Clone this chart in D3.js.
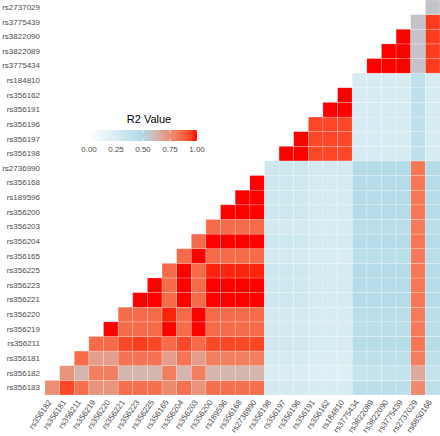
<!DOCTYPE html>
<html>
<head>
<meta charset="utf-8">
<script src="https://cdn.jsdelivr.net/npm/d3@7"></script>
<style>
  html, body { margin: 0; padding: 0; background: #fff; }
  svg { display: block; }
  text { font-family: "Liberation Sans", Arial, Helvetica, sans-serif; }
</style>
</head>
<body>
<svg id="chart" width="440" height="436"></svg>
<script>
// SNPs in order (row k = snps[k], column j = snps[j+1])
const snps = ["rs356183","rs356182","rs356181","rs356211","rs356219","rs356220","rs356221",
  "rs356223","rs356225","rs356165","rs356204","rs356203","rs356200","rs189596","rs356168",
  "rs2736990","rs356198","rs356197","rs356196","rs356191","rs356162","rs184810","rs3775434",
  "rs3822089","rs3822090","rs3775439","rs2737029","rs6850166"];
const rowLabels = snps.slice(0, 27);
const colLabels = snps.slice(1);

// R2 values: row k lists columns k..26 (null = NA)
const r2Rows = [
  [0.75,0.93,0.84,0.73,0.73,0.84,0.84,0.84,0.76,0.84,0.73,0.84,0.84,0.84,0.84, 0.27,0.27,0.27,0.24,0.24,0.24,0.41,0.41,0.41,0.41,0.76,0.41],
  [0.73,0.62,0.80,0.80,0.62,0.62,0.62,0.80,0.62,0.80,0.62,0.62,0.62,0.62, 0.23,0.23,0.23,0.20,0.20,0.20,0.36,0.36,0.36,0.36,0.66,0.36],
  [0.85,0.70,0.70,0.83,0.83,0.83,0.70,0.83,0.70,0.80,0.80,0.80,0.80, 0.26,0.26,0.26,0.23,0.23,0.23,0.40,0.40,0.40,0.40,0.80,0.40],
  [0.85,0.85,0.93,0.95,0.93,0.85,0.93,0.85,0.93,0.93,0.93,0.93, 0.29,0.29,0.29,0.25,0.25,0.25,0.44,0.44,0.44,0.44,0.82,0.44],
  [1.00,0.85,0.85,0.85,1.00,0.85,1.00,0.85,0.85,0.85,0.85, 0.27,0.27,0.27,0.24,0.24,0.24,0.42,0.42,0.42,0.42,0.81,0.42],
  [0.85,0.85,0.85,0.98,0.85,1.00,0.85,0.85,0.85,0.85, 0.27,0.27,0.27,0.24,0.24,0.24,0.42,0.42,0.42,0.42,0.81,0.42],
  [1.00,1.00,0.85,1.00,0.85,1.00,1.00,1.00,1.00, 0.30,0.30,0.30,0.26,0.26,0.26,0.45,0.45,0.45,0.45,0.82,0.45],
  [1.00,0.85,1.00,0.85,1.00,1.00,1.00,1.00, 0.30,0.30,0.30,0.26,0.26,0.26,0.45,0.45,0.45,0.45,0.82,0.45],
  [0.85,1.00,0.85,0.98,0.98,0.98,0.98, 0.30,0.30,0.30,0.26,0.26,0.26,0.45,0.45,0.45,0.45,0.82,0.45],
  [0.85,1.00,0.85,0.85,0.85,0.85, 0.27,0.27,0.27,0.24,0.24,0.24,0.42,0.42,0.42,0.42,0.81,0.42],
  [0.85,1.00,1.00,1.00,1.00, 0.30,0.30,0.30,0.26,0.26,0.26,0.45,0.45,0.45,0.45,0.82,0.45],
  [0.85,0.85,0.85,0.85, 0.27,0.27,0.27,0.24,0.24,0.24,0.42,0.42,0.42,0.42,0.81,0.42],
  [1.00,1.00,1.00, 0.30,0.30,0.30,0.26,0.26,0.26,0.45,0.45,0.45,0.45,0.82,0.45],
  [1.00,1.00, 0.30,0.30,0.30,0.26,0.26,0.26,0.45,0.45,0.45,0.45,0.82,0.45],
  [1.00, 0.30,0.30,0.30,0.26,0.26,0.26,0.45,0.45,0.45,0.45,0.82,0.45],
  [0.31,0.31,0.31,0.27,0.27,0.27,0.46,0.46,0.46,0.46,0.82,0.46],
  [1.00,1.00,0.93,0.93,0.93, 0.25,0.25,0.25,0.25,0.40,0.25],
  [1.00,0.93,0.93,0.93, 0.25,0.25,0.25,0.25,0.40,0.25],
  [0.93,0.93,0.93, 0.25,0.25,0.25,0.25,0.40,0.25],
  [1.00,1.00, 0.25,0.25,0.25,0.25,0.40,0.25],
  [1.00, 0.25,0.25,0.25,0.25,0.40,0.25],
  [0.25,0.25,0.25,0.25,0.40,0.25],
  [1.00,1.00,1.00,null,0.95],
  [1.00,1.00,null,0.95],
  [1.00,null,0.95],
  [null,0.95],
  [null]
];
const legendTicks = [0, 0.25, 0.5, 0.75, 1];
const legendTitle = "R2 Value";

// build cells
const cells = [];
r2Rows.forEach((vals, k) => {
  vals.forEach((v, i) => {
    cells.push({ row: rowLabels[k], col: colLabels[k + i], value: v });
  });
});

const svg = d3.select("#chart");
const x = d3.scaleBand().domain(colLabels).range([45, 440]);
const y = d3.scaleBand().domain(rowLabels.slice().reverse()).range([0, 395]);
const color = d3.scaleLinear().domain([0, 0.5, 1])
  .range(["#ffffff", "#add8e6", "#ff0000"]).interpolate(d3.interpolateLab);
const naColor = "#c3c4c9";

svg.append("g").selectAll("rect").data(cells).join("rect")
  .attr("x", d => x(d.col))
  .attr("y", d => y(d.row))
  .attr("width", x.bandwidth())
  .attr("height", y.bandwidth())
  .attr("fill", d => d.value == null ? naColor : color(d.value))
  .attr("stroke", "#ffffff")
  .attr("stroke-opacity", 0.35)
  .attr("stroke-width", 0.6);

// axes
const textColor = "#4d4d4d";
const yAxis = svg.append("g").attr("transform", "translate(45,0)")
  .call(d3.axisLeft(y).tickSize(0).tickPadding(5));
yAxis.select(".domain").remove();
yAxis.selectAll("text").attr("fill", textColor).style("font-size", "8px");

const xAxis = svg.append("g").attr("transform", "translate(0,395)")
  .call(d3.axisBottom(x).tickSize(0).tickPadding(0));
xAxis.select(".domain").remove();
xAxis.selectAll(".tick text")
  .attr("fill", textColor).style("font-size", "8px")
  .attr("text-anchor", "end")
  .attr("x", 0).attr("y", 0).attr("dy", "0.72em")
  .attr("transform", "translate(-5,4) rotate(-55)");

// legend
const lx = d3.scaleLinear().domain([0, 1]).range([89, 197]);
const defs = svg.append("defs");
const grad = defs.append("linearGradient").attr("id", "lg").attr("x1", "0%").attr("x2", "100%");
d3.range(0, 1.0001, 0.05).forEach(t => {
  grad.append("stop").attr("offset", (t * 100) + "%").attr("stop-color", color(t));
});
const lg = svg.append("g");
lg.append("rect").attr("x", lx(0)).attr("y", 130).attr("width", lx(1) - lx(0)).attr("height", 11)
  .attr("fill", "url(#lg)");
lg.selectAll("line.tk").data(legendTicks).join("line").attr("class", "tk")
  .attr("x1", d => lx(d)).attr("x2", d => lx(d))
  .attr("y1", 130).attr("y2", 132.5).attr("stroke", "#fff").attr("stroke-width", 0.6);
lg.selectAll("line.tk2").data(legendTicks).join("line").attr("class", "tk2")
  .attr("x1", d => lx(d)).attr("x2", d => lx(d))
  .attr("y1", 138.5).attr("y2", 141).attr("stroke", "#fff").attr("stroke-width", 0.6);
lg.selectAll("text.lb").data(legendTicks).join("text").attr("class", "lb")
  .attr("x", d => lx(d)).attr("y", 152)
  .attr("text-anchor", "middle").attr("fill", textColor).style("font-size", "8px")
  .text(d => d3.format(".2f")(d));
lg.append("text").attr("x", 149).attr("y", 123).attr("text-anchor", "middle")
  .attr("fill", "#000").style("font-size", "11px").text(legendTitle);
</script>
</body>
</html>
